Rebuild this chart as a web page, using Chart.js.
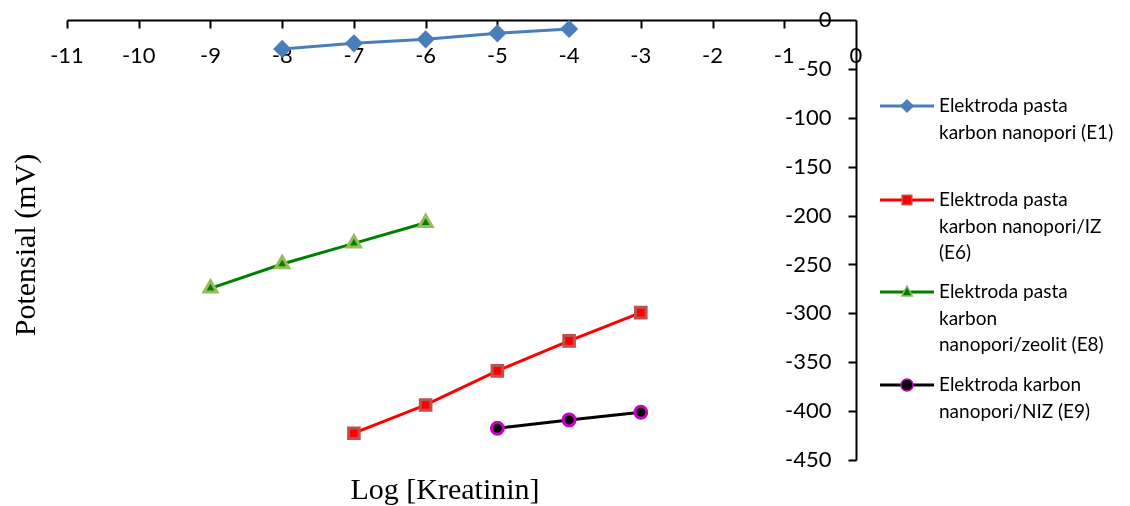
<!DOCTYPE html>
<html>
<head>
<meta charset="utf-8">
<title>Potensial vs Log [Kreatinin]</title>
<script src="https://cdn.jsdelivr.net/npm/chart.js@4/dist/chart.umd.min.js"></script>
<style>
  html, body { margin: 0; padding: 0; background: #fff; }
  #wrap { width: 1130px; height: 506px; }
</style>
</head>
<body>
<div id="wrap"><canvas id="chart" width="1130" height="506"></canvas></div>
<script>
// chart data
const e1X = [-8, -7, -6, -5, -4];
const e1Y = [-29.6, -23.9, -19.8, -13.6, -9.2];
const e6X = [-7, -6, -5, -4, -3];
const e6Y = [-422.6, -393.7, -358.9, -328.2, -299.3];
const e8X = [-9, -8, -7, -6];
const e8Y = [-274.4, -249.5, -228.4, -207.3];
const e9X = [-5, -4, -3];
const e9Y = [-417.6, -409, -401.2];

const xTicks = [-11, -10, -9, -8, -7, -6, -5, -4, -3, -2, -1, 0];
const yTicks = [0, -50, -100, -150, -200, -250, -300, -350, -400, -450];

const seriesNames = [
  ['Elektroda pasta', 'karbon nanopori (E1)'],
  ['Elektroda pasta', 'karbon nanopori/IZ', '(E6)'],
  ['Elektroda pasta', 'karbon', 'nanopori/zeolit (E8)'],
  ['Elektroda karbon', 'nanopori/NIZ (E9)']
];

const xTitle = 'Log [Kreatinin]';
const yTitle = 'Potensial (mV)';

function toPoints(xs, ys) {
  return xs.map((x, i) => ({ x: x, y: ys[i] }));
}

const TICK_FONT = '22px Lato, "Open Sans", sans-serif';
const LEGEND_FONT = '19px Lato, "Open Sans", sans-serif';
const TITLE_FONT = '30px "Liberation Serif", "Times New Roman", serif';

// axes drawn by hand: x axis sits on top (y = 0), y axis on the right (x = 0)
const axesPlugin = {
  id: 'excelAxes',
  beforeDatasetsDraw(chart) {
    const ctx = chart.ctx;
    const xs = chart.scales.x;
    const ys = chart.scales.y;
    const x0 = Math.round(xs.getPixelForValue(0)) + 0.5;
    const y0 = Math.round(ys.getPixelForValue(0)) + 0.5;
    const yBottom = Math.round(ys.getPixelForValue(-450)) + 0.5;
    const xLeft = Math.round(xs.getPixelForValue(-11)) + 0.5;

    ctx.save();
    ctx.strokeStyle = '#000';
    ctx.lineWidth = 2;
    ctx.beginPath();
    ctx.moveTo(xLeft, y0);
    ctx.lineTo(x0, y0);
    ctx.moveTo(x0, y0);
    ctx.lineTo(x0, yBottom);
    xTicks.forEach(t => {
      const px = Math.round(xs.getPixelForValue(t)) + 0.5;
      ctx.moveTo(px, y0);
      ctx.lineTo(px, y0 + 8);
    });
    yTicks.forEach(t => {
      const py = Math.round(ys.getPixelForValue(t)) + 0.5;
      ctx.moveTo(x0, py);
      ctx.lineTo(x0 - 8, py);
    });
    ctx.stroke();

    ctx.fillStyle = '#000';
    ctx.font = TICK_FONT;
    ctx.textAlign = 'center';
    ctx.textBaseline = 'middle';
    xTicks.forEach(t => {
      ctx.fillText(String(t), xs.getPixelForValue(t), y0 + 35);
    });
    ctx.textAlign = 'right';
    yTicks.forEach(t => {
      ctx.fillText(String(t), x0 - 25, ys.getPixelForValue(t));
    });

    // axis titles
    ctx.font = TITLE_FONT;
    ctx.textAlign = 'center';
    ctx.fillText(xTitle, 445, 491);
    ctx.translate(27, 245);
    ctx.rotate(-Math.PI / 2);
    ctx.fillText(yTitle, 0, 0);
    ctx.restore();
  }
};

function drawMarker(ctx, style, fill, stroke, r, x, y) {
  ctx.beginPath();
  if (style === 'rectRot') {
    ctx.moveTo(x, y - r); ctx.lineTo(x + r, y); ctx.lineTo(x, y + r); ctx.lineTo(x - r, y);
  } else if (style === 'rect') {
    ctx.rect(x - r * 0.8, y - r * 0.8, r * 1.6, r * 1.6);
  } else if (style === 'triangle') {
    ctx.moveTo(x, y - r); ctx.lineTo(x + r * 0.9, y + r * 0.65); ctx.lineTo(x - r * 0.9, y + r * 0.65);
  } else {
    ctx.arc(x, y, r, 0, Math.PI * 2);
  }
  ctx.closePath();
  ctx.fillStyle = fill;
  ctx.fill();
  ctx.lineWidth = 1.5;
  ctx.strokeStyle = stroke;
  ctx.stroke();
}

// legend with wrapped lines, like the Excel one
const legendRows = [106, 200, 292, 385];
const legendPlugin = {
  id: 'wrapLegend',
  afterDraw(chart) {
    const ctx = chart.ctx;
    ctx.save();
    chart.data.datasets.forEach((ds, i) => {
      const y = legendRows[i];
      ctx.strokeStyle = ds.borderColor;
      ctx.lineWidth = 3;
      ctx.beginPath();
      ctx.moveTo(880, y);
      ctx.lineTo(934, y);
      ctx.stroke();
      drawMarker(ctx, ds.pointStyle, ds.pointBackgroundColor, ds.pointBorderColor, 6, 907, y);
      ctx.fillStyle = '#000';
      ctx.font = LEGEND_FONT;
      ctx.textAlign = 'left';
      ctx.textBaseline = 'middle';
      seriesNames[i].forEach((line, j) => {
        ctx.fillText(line, 939, y + j * 26.5);
      });
    });
    ctx.restore();
  }
};

new Chart(document.getElementById('chart').getContext('2d'), {
  type: 'line',
  data: {
    datasets: [
      {
        label: seriesNames[0].join(' '),
        data: toPoints(e1X, e1Y),
        borderColor: '#4a7ebb',
        borderWidth: 3,
        pointStyle: 'rectRot',
        pointRadius: 7,
        pointBackgroundColor: '#4a7ebb',
        pointBorderColor: '#4a7ebb'
      },
      {
        label: seriesNames[1].join(' '),
        data: toPoints(e6X, e6Y),
        borderColor: '#ff0000',
        borderWidth: 3,
        pointStyle: 'rect',
        pointRadius: 7.5,
        pointBackgroundColor: '#ff0000',
        pointBorderColor: '#c0504d'
      },
      {
        label: seriesNames[2].join(' '),
        data: toPoints(e8X, e8Y),
        borderColor: '#008000',
        borderWidth: 3,
        pointStyle: 'triangle',
        pointRadius: 7.5,
        pointBackgroundColor: '#008000',
        pointBorderColor: '#9bbb59'
      },
      {
        label: seriesNames[3].join(' '),
        data: toPoints(e9X, e9Y),
        borderColor: '#000000',
        borderWidth: 3,
        pointStyle: 'circle',
        pointRadius: 6,
        pointBackgroundColor: '#000000',
        pointBorderColor: '#cc00cc'
      }
    ]
  },
  options: {
    responsive: false,
    animation: false,
    layout: { padding: { left: 67, right: 274, top: 20, bottom: 46 } },
    scales: {
      x: { type: 'linear', min: -11, max: 0, display: false },
      y: { type: 'linear', min: -450, max: 0, display: false }
    },
    elements: { point: { borderWidth: 1.5 }, line: { tension: 0 } },
    plugins: { legend: { display: false }, tooltip: { enabled: false } }
  },
  plugins: [axesPlugin, legendPlugin]
});
</script>
</body>
</html>
